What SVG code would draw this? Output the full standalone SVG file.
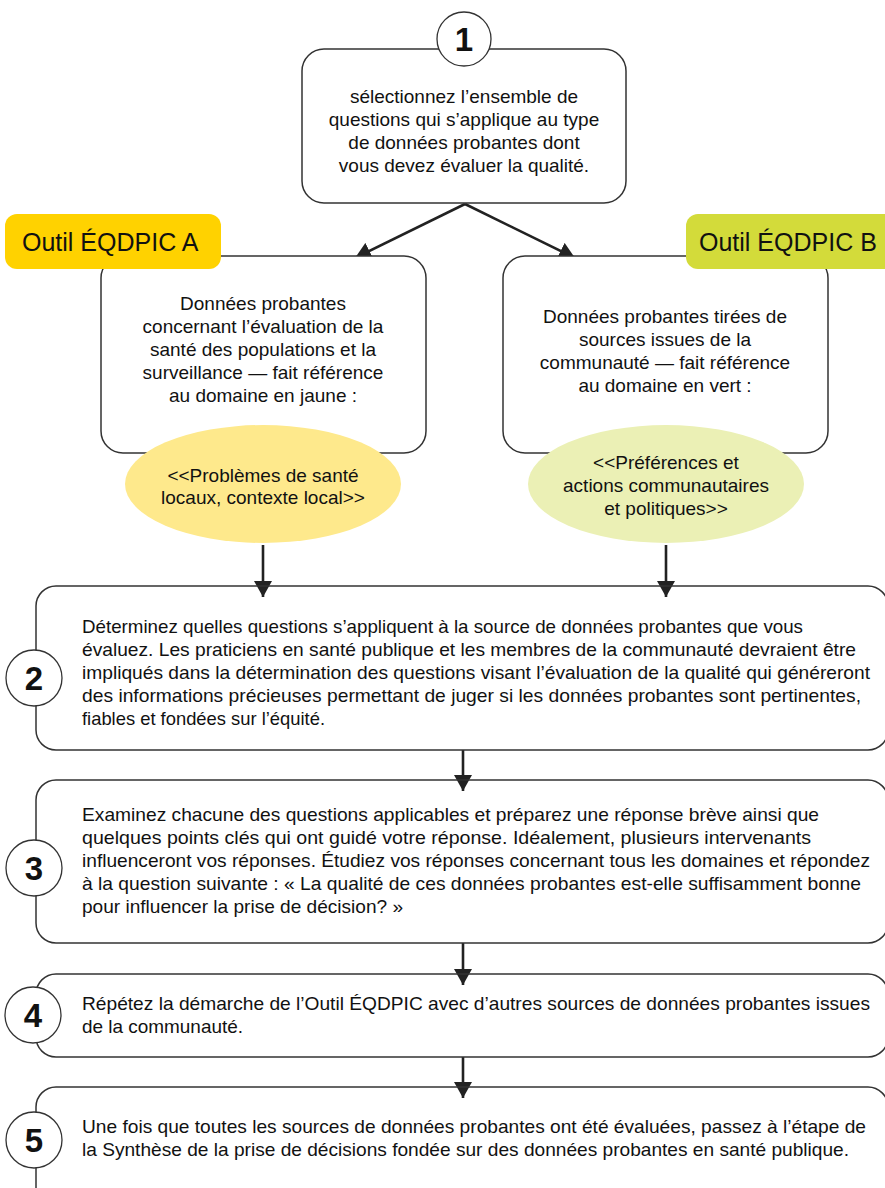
<svg xmlns="http://www.w3.org/2000/svg" width="885" height="1188" viewBox="0 0 885 1188">
<style>
  .box { fill: #fff; stroke: #333; stroke-width: 1.5; }
  .open { fill: none; stroke: #333; stroke-width: 1.5; }
  .num { fill: #fff; stroke: #333; stroke-width: 1.3; }
  .t { font-family: "Liberation Sans", Arial, sans-serif; font-size: 18.5px; fill: #111; }
  .c { text-anchor: middle; font-size: 19px; }
  .n { font-family: "Liberation Sans", Arial, sans-serif; font-size: 33px; font-weight: bold; fill: #111; text-anchor: middle; }
  .lab { font-family: "Liberation Sans", Arial, sans-serif; font-size: 25px; fill: #111; }
  .conn { stroke: #222; stroke-width: 2.6; fill: none; }
</style>
<defs>
  <marker id="ah" viewBox="0 0 16 18" markerWidth="16" markerHeight="18" refX="16" refY="9" orient="auto" markerUnits="userSpaceOnUse">
    <path d="M0,0 L16,9 L0,18 z" fill="#222"/>
  </marker>
</defs>
<rect width="885" height="1188" fill="#fff"/>

<g id="connectors">
  <line class="conn" x1="465" y1="204" x2="355" y2="258" marker-end="url(#ah)"/>
  <line class="conn" x1="465" y1="204" x2="575" y2="258" marker-end="url(#ah)"/>
  <line class="conn" x1="263" y1="545" x2="263" y2="597" marker-end="url(#ah)"/>
  <line class="conn" x1="666" y1="545" x2="666" y2="597" marker-end="url(#ah)"/>
  <line class="conn" x1="463" y1="750" x2="463" y2="791" marker-end="url(#ah)"/>
  <line class="conn" x1="463" y1="943" x2="463" y2="985" marker-end="url(#ah)"/>
  <line class="conn" x1="463" y1="1057" x2="463" y2="1098" marker-end="url(#ah)"/>
</g>

<g id="step1">
  <rect class="box" x="302" y="49" width="324" height="154" rx="22"/>
  <circle class="num" cx="464" cy="39" r="27"/>
  <text class="n" x="464" y="51">1</text>
  <text class="t c" x="464" y="103">sélectionnez l’ensemble de</text>
  <text class="t c" x="464" y="126">questions qui s’applique au type</text>
  <text class="t c" x="464" y="149">de données probantes dont</text>
  <text class="t c" x="464" y="172">vous devez évaluer la qualité.</text>
</g>

<g id="toolA">
  <rect class="box" x="101" y="256" width="325" height="197" rx="22"/>
  <text class="t c" x="263" y="310">Données probantes</text>
  <text class="t c" x="263" y="333">concernant l’évaluation de la</text>
  <text class="t c" x="263" y="356">santé des populations et la</text>
  <text class="t c" x="263" y="379">surveillance — fait référence</text>
  <text class="t c" x="263" y="402">au domaine en jaune :</text>
</g>
<g id="domainA">
  <ellipse cx="263" cy="484" rx="138" ry="59" fill="#FEE98C"/>
  <text class="t c" x="263" y="482">&lt;&lt;Problèmes de santé</text>
  <text class="t c" x="263" y="504">locaux, contexte local&gt;&gt;</text>
</g>
<g id="labelA">
  <rect x="5" y="214" width="216" height="55" rx="12" fill="#FFD200"/>
  <text class="lab" x="22" y="251">Outil ÉQDPIC A</text>
</g>

<g id="toolB">
  <rect class="box" x="503" y="256" width="325" height="197" rx="22"/>
  <text class="t c" x="665" y="323">Données probantes tirées de</text>
  <text class="t c" x="665" y="346">sources issues de la</text>
  <text class="t c" x="665" y="369">communauté — fait référence</text>
  <text class="t c" x="665" y="392">au domaine en vert :</text>
</g>
<g id="domainB">
  <ellipse cx="666" cy="484" rx="138" ry="59" fill="#EBF0B5"/>
  <text class="t c" x="666" y="469">&lt;&lt;Préférences et</text>
  <text class="t c" x="666" y="492">actions communautaires</text>
  <text class="t c" x="666" y="515">et politiques&gt;&gt;</text>
</g>
<g id="labelB">
  <rect x="686" y="214" width="215" height="55" rx="12" fill="#D3DB3A"/>
  <text class="lab" x="699" y="251">Outil ÉQDPIC B</text>
</g>

<g id="step2">
  <rect class="open" x="36" y="586" width="852" height="164" rx="20"/>
  <circle class="num" cx="34" cy="678" r="28"/>
  <text class="n" x="34" y="690">2</text>
  <text class="t" x="82" y="633" textLength="721" lengthAdjust="spacingAndGlyphs">Déterminez quelles questions s’appliquent à la source de données probantes que vous</text>
  <text class="t" x="82" y="656" textLength="774" lengthAdjust="spacingAndGlyphs">évaluez. Les praticiens en santé publique et les membres de la communauté devraient être</text>
  <text class="t" x="82" y="679" textLength="788" lengthAdjust="spacingAndGlyphs">impliqués dans la détermination des questions visant l’évaluation de la qualité qui généreront</text>
  <text class="t" x="82" y="702" textLength="779" lengthAdjust="spacingAndGlyphs">des informations précieuses permettant de juger si les données probantes sont pertinentes,</text>
  <text class="t" x="82" y="725" textLength="243" lengthAdjust="spacingAndGlyphs">fiables et fondées sur l’équité.</text>
</g>

<g id="step3">
  <rect class="open" x="36" y="780" width="852" height="163" rx="20"/>
  <circle class="num" cx="34" cy="868" r="28"/>
  <text class="n" x="34" y="880">3</text>
  <text class="t" x="82" y="821" textLength="737" lengthAdjust="spacingAndGlyphs">Examinez chacune des questions applicables et préparez une réponse brève ainsi que</text>
  <text class="t" x="82" y="844" textLength="729" lengthAdjust="spacingAndGlyphs">quelques points clés qui ont guidé votre réponse. Idéalement, plusieurs intervenants</text>
  <text class="t" x="82" y="867" textLength="788" lengthAdjust="spacingAndGlyphs">influenceront vos réponses. Étudiez vos réponses concernant tous les domaines et répondez</text>
  <text class="t" x="82" y="890" textLength="779" lengthAdjust="spacingAndGlyphs">à la question suivante : « La qualité de ces données probantes est-elle suffisamment bonne</text>
  <text class="t" x="82" y="913" textLength="321" lengthAdjust="spacingAndGlyphs">pour influencer la prise de décision? »</text>
</g>

<g id="step4">
  <rect class="open" x="36" y="974" width="852" height="83" rx="20"/>
  <circle class="num" cx="33" cy="1015" r="28"/>
  <text class="n" x="33" y="1027">4</text>
  <text class="t" x="82" y="1010" textLength="788" lengthAdjust="spacingAndGlyphs">Répétez la démarche de l’Outil ÉQDPIC avec d’autres sources de données probantes issues</text>
  <text class="t" x="82" y="1033" textLength="161" lengthAdjust="spacingAndGlyphs">de la communauté.</text>
</g>

<g id="step5">
  <rect class="open" x="36" y="1087" width="852" height="140" rx="20"/>
  <circle class="num" cx="34" cy="1140" r="28"/>
  <text class="n" x="34" y="1152">5</text>
  <text class="t" x="82" y="1133" textLength="784" lengthAdjust="spacingAndGlyphs">Une fois que toutes les sources de données probantes ont été évaluées, passez à l’étape de</text>
  <text class="t" x="82" y="1156" textLength="767" lengthAdjust="spacingAndGlyphs">la Synthèse de la prise de décisions fondée sur des données probantes en santé publique.</text>
</g>
</svg>
